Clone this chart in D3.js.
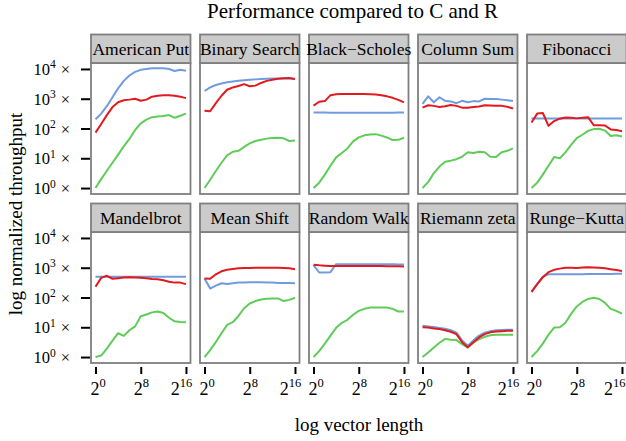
<!DOCTYPE html>
<html><head><meta charset="utf-8">
<script src="https://cdn.jsdelivr.net/npm/d3@7"></script>
<style>
body{margin:0;background:#fff}
svg{display:block}
text{font-family:"Liberation Serif","Times New Roman",Times,serif;fill:#000}
</style>
</head><body>
<svg id="chart" width="626" height="441"></svg>
<script>
// ---------- DATA (log10 of normalized throughput, x = log2 vector length) ----------
const categories = ["American Put","Binary Search","Black\u2212Scholes","Column Sum","Fibonacci",
                    "Mandelbrot","Mean Shift","Random Walk","Riemann zeta","Runge\u2212Kutta"];
const exponents = [0,1,2,3,4,5,6,7,8,9,10,11,12,13,14,15,16];
const xTickValues = [0,8,16];
const xTickLabels = [["2","0"],["2","8"],["2","16"]];
const yTickValues = [0,1,2,3,4];
const yTickLabels = [["10","0"],["10","1"],["10","2"],["10","3"],["10","4"]];
const seriesColors = ["#6F9BDF","#5FCC5A","#E3191D"];

const blueValues = [
  [2.31,2.5,2.75,3.05,3.35,3.6,3.78,3.9,3.97,4.0,4.02,4.02,4.02,4.0,3.93,3.97,3.94],
  [3.26,3.38,3.46,3.51,3.55,3.58,3.6,3.62,3.64,3.65,3.66,3.67,3.68,3.68,3.68,3.67,3.66],
  [2.54,2.54,2.54,2.53,2.53,2.53,2.53,2.53,2.53,2.53,2.53,2.53,2.53,2.53,2.53,2.54,2.54],
  [2.83,3.08,2.88,3.05,2.93,2.91,2.85,2.93,2.88,2.92,2.91,3.0,2.99,2.99,2.97,2.95,2.92],
  [2.34,2.34,2.34,2.34,2.34,2.34,2.34,2.34,2.34,2.34,2.34,2.34,2.34,2.34,2.34,2.34,2.34],
  [2.7,2.7,2.7,2.7,2.7,2.7,2.7,2.7,2.7,2.7,2.7,2.7,2.7,2.7,2.7,2.7,2.7],
  [2.64,2.3,2.4,2.48,2.45,2.48,2.5,2.5,2.51,2.51,2.51,2.5,2.5,2.49,2.49,2.49,2.48],
  [3.09,2.84,2.84,2.85,3.12,3.12,3.12,3.12,3.12,3.12,3.12,3.12,3.12,3.12,3.12,3.11,3.11],
  [1.05,1.03,1.01,0.98,0.95,0.9,0.82,0.56,0.38,0.56,0.72,0.82,0.87,0.9,0.91,0.92,0.92],
  [2.19,2.45,2.7,2.78,2.78,2.78,2.78,2.78,2.78,2.78,2.79,2.79,2.79,2.79,2.79,2.8,2.8]
];
const redValues = [
  [1.86,2.15,2.45,2.72,2.88,2.95,2.97,3.0,2.93,2.97,3.07,3.1,3.12,3.12,3.1,3.07,3.02],
  [2.6,2.58,2.85,3.1,3.3,3.38,3.43,3.49,3.42,3.44,3.53,3.6,3.64,3.67,3.69,3.7,3.66],
  [2.77,2.9,2.92,3.12,3.15,3.16,3.16,3.16,3.16,3.16,3.15,3.14,3.12,3.08,3.03,2.96,2.88],
  [2.7,2.78,2.76,2.72,2.75,2.79,2.76,2.7,2.7,2.72,2.74,2.78,2.77,2.76,2.76,2.73,2.67],
  [2.2,2.5,2.52,2.09,2.25,2.33,2.37,2.36,2.34,2.36,2.38,2.11,2.11,2.1,1.97,1.95,1.91],
  [2.36,2.66,2.73,2.63,2.65,2.67,2.68,2.67,2.66,2.65,2.62,2.61,2.58,2.53,2.5,2.5,2.45],
  [2.64,2.63,2.78,2.88,2.93,2.96,2.98,2.99,2.99,3.0,3.0,3.0,3.0,3.0,2.99,2.98,2.95],
  [3.1,3.08,3.07,3.06,3.06,3.06,3.06,3.06,3.06,3.06,3.06,3.06,3.06,3.05,3.05,3.05,3.04],
  [1.0,0.99,0.96,0.94,0.9,0.85,0.77,0.5,0.33,0.5,0.66,0.77,0.83,0.86,0.87,0.88,0.88],
  [2.19,2.45,2.68,2.85,2.93,2.97,3.0,3.0,2.99,3.01,3.02,3.01,3.0,2.98,2.95,2.92,2.89]
];
const greenValues = [
  [0,0.3,0.58,0.85,1.12,1.4,1.65,1.95,2.17,2.3,2.38,2.4,2.42,2.45,2.36,2.43,2.5],
  [0,0.28,0.57,0.85,1.1,1.22,1.25,1.38,1.5,1.58,1.62,1.66,1.68,1.69,1.67,1.58,1.6],
  [0,0.18,0.45,0.75,1.03,1.18,1.33,1.57,1.7,1.77,1.8,1.81,1.76,1.7,1.61,1.62,1.69],
  [0,0.2,0.5,0.72,0.88,0.92,0.97,1.05,1.2,1.18,1.22,1.2,1.05,1.04,1.2,1.25,1.33],
  [0,0.18,0.45,0.75,1.04,1.0,1.2,1.45,1.68,1.79,1.92,1.98,1.99,1.93,1.75,1.77,1.73],
  [0,0.05,0.28,0.55,0.8,0.71,0.9,1.03,1.37,1.43,1.5,1.53,1.48,1.32,1.2,1.18,1.17],
  [0,0.23,0.5,0.8,1.08,1.17,1.38,1.64,1.8,1.88,1.93,1.96,1.97,1.97,1.88,1.92,1.99],
  [0,0.2,0.45,0.72,0.98,1.15,1.25,1.42,1.55,1.62,1.66,1.66,1.66,1.66,1.62,1.53,1.53],
  [0,0.15,0.32,0.48,0.61,0.58,0.57,0.43,0.32,0.48,0.6,0.68,0.73,0.75,0.75,0.75,0.75],
  [0,0.2,0.45,0.75,0.99,1.0,1.15,1.45,1.7,1.85,1.95,1.99,1.95,1.82,1.62,1.55,1.46]
];

// ---------- LAYOUT ----------
const svg = d3.select("#chart");
const W = 626;
const firstLeft = 91, colStep = 109, panelW = 99.5;
const rowTops = [34.5, 203.5], stripH = 28.5, panelH = 131;
const grey = "#7F7F7F", stripFill = "#CBCBCB";
const xLabelShift = [2, 0, -5];

const line = d3.line().curve(d3.curveLinear);

categories.forEach((name, i) => {
  const c = i % 5, r = Math.floor(i / 5);
  const left = firstLeft + colStep * c;
  const top = rowTops[r];
  const pTop = top + stripH, pBot = pTop + panelH;
  const x = d3.scaleLinear().domain([-0.8, 16.8]).range([left, left + panelW]);
  const y = d3.scaleLinear().domain([-0.2, 4.2]).range([pBot, pTop]);
  const g = svg.append("g");

  g.append("rect").attr("x", left).attr("y", pTop).attr("width", panelW).attr("height", panelH)
    .attr("fill", "#fff");

  const series = [blueValues[i], greenValues[i], redValues[i]];
  series.forEach((vals, s) => {
    g.append("path")
      .attr("d", line.x((d, k) => x(exponents[k])).y(d => y(d))(vals))
      .attr("fill", "none").attr("stroke", seriesColors[s]).attr("stroke-width", 2)
      .attr("stroke-linejoin", "round").attr("stroke-linecap", "butt");
  });

  g.append("rect").attr("x", left).attr("y", pTop).attr("width", panelW).attr("height", panelH)
    .attr("fill", "none").attr("stroke", grey).attr("stroke-width", 1.8);

  g.append("rect").attr("x", left).attr("y", top).attr("width", panelW).attr("height", stripH)
    .attr("fill", stripFill).attr("stroke", grey).attr("stroke-width", 1.8);
  g.append("text").attr("x", left + panelW / 2).attr("y", top + stripH / 2 + 6)
    .attr("text-anchor", "middle").attr("font-size", 17.5).text(name);

  // y axis on first column
  if (c === 0) {
    const ax = svg.append("g").attr("transform", `translate(${left - 1},0)`)
      .call(d3.axisLeft(y).tickValues(yTickValues).tickSize(9).tickFormat(""));
    ax.select(".domain").remove();
    ax.selectAll(".tick line").attr("stroke", "#000").attr("stroke-width", 2);
    ax.selectAll(".tick").each(function(d, j) {
      const t = d3.select(this).append("text").attr("x", -20).attr("y", 5.5)
        .attr("text-anchor", "end").attr("font-size", 16.5).attr("fill", "#000");
      t.append("tspan").text(yTickLabels[j][0]);
      t.append("tspan").attr("dy", -6.5).attr("font-size", 11.5).text(yTickLabels[j][1]);
      t.append("tspan").attr("dy", 6.5).attr("dx", 5).text("\u00D7");
    });
  }
  // x axis on bottom row
  if (r === 1) {
    const ax = svg.append("g").attr("transform", `translate(0,${pBot + 4})`)
      .call(d3.axisBottom(x).tickValues(xTickValues).tickSize(7).tickFormat(""));
    ax.select(".domain").remove();
    ax.selectAll(".tick line").attr("stroke", "#000").attr("stroke-width", 2);
    ax.selectAll(".tick").each(function(d, j) {
      const t = d3.select(this).append("text").attr("x", xLabelShift[j]).attr("y", 27.5)
        .attr("text-anchor", "middle").attr("font-size", 18).attr("fill", "#000");
      t.append("tspan").text(xTickLabels[j][0]);
      t.append("tspan").attr("dy", -8).attr("font-size", 12.5).text(xTickLabels[j][1]);
      // keep the label fully inside the picture
      const bb = this.getBoundingClientRect();
      const tb = t.node().getBoundingClientRect();
      if (tb.right > W - 0.5) t.attr("x", xLabelShift[j] - (tb.right - (W - 0.5)));
    });
  }
});

svg.append("text").attr("x", 352.5).attr("y", 18).attr("text-anchor", "middle")
  .attr("font-size", 21).text("Performance compared to C and R");
svg.append("text").attr("x", 359).attr("y", 430.5).attr("text-anchor", "middle")
  .attr("font-size", 19).text("log vector length");
svg.append("text").attr("transform", "translate(21.5,214) rotate(-90)").attr("text-anchor", "middle")
  .attr("font-size", 19).text("log normalized throughput");
</script>
</body></html>
